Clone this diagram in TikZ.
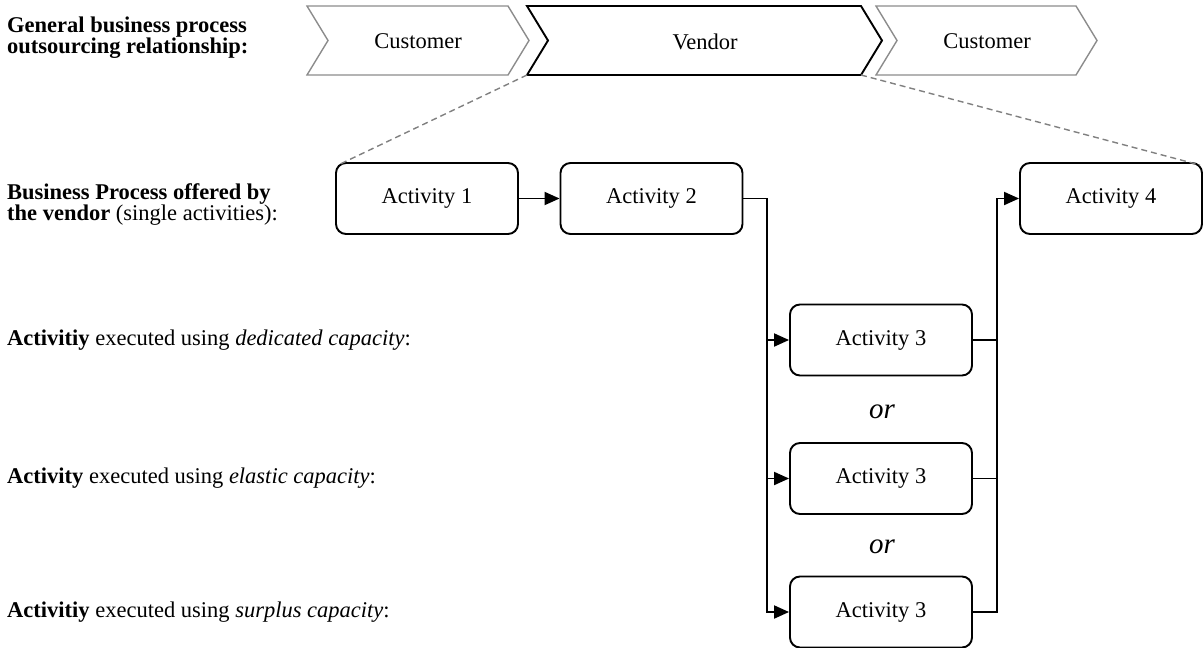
\documentclass[tikz,border=0pt]{standalone}
\usepackage{fontspec}
\setmainfont{Liberation Serif}
\usetikzlibrary{arrows.meta,calc}

\definecolor{chevgray}{RGB}{140,140,140}
\definecolor{dashgray}{RGB}{128,128,128}

\begin{document}
\begin{tikzpicture}[x=1pt,y=-1pt,
  every node/.style={font=\fontsize{22.5}{20.5}\selectfont},
  actbox/.style={draw, line width=1.9pt, rounded corners=10pt,
    minimum width=182pt, minimum height=71pt, inner sep=0pt},
  flow/.style={line width=1.9pt},
  arr/.style={flow, -{Triangle[length=15pt,width=13pt]}},
  chevcust/.style={draw=chevgray, line width=1.4pt},
  chevvend/.style={draw=black, line width=1.9pt},
  zoomline/.style={draw=dashgray, line width=1.4pt, dash pattern=on 6pt off 4pt},
  rowlabel/.style={anchor=west, inner sep=0pt, align=left},
  ortext/.style={font=\fontsize{29}{30}\selectfont\itshape}
]
\useasboundingbox (0,0) rectangle (1203,648);

% value chain: customer -> vendor -> customer
\draw[chevcust] (307,6) -- (508,6) -- (529,40.5) -- (508,75) -- (307,75) -- (328,40.5) -- cycle;
\node (cust1) at (418,41.5) {Customer};
\draw[chevvend] (527,6) -- (861,6) -- (882,40.5) -- (861,75) coordinate (vbr)
  -- (527,75) coordinate (vbl) -- (548,40.5) -- cycle;
\node (vend) at (705,41.5) {Vendor};
\draw[chevcust] (876,6) -- (1076,6) -- (1097,40.5) -- (1076,75) -- (876,75) -- (897,40.5) -- cycle;
\node (cust2) at (987,41.5) {Customer};

% row labels
\node[rowlabel] (lblBPO) at (7,37.5)
  {\textbf{General business process}\\\textbf{outsourcing relationship:}};
\node[rowlabel] (lblBP) at (7,204.5)
  {\textbf{Business Process offered by}\\\textbf{the vendor} (single activities):};
\node[rowlabel] (lblDed) at (7,340)
  {\textbf{Activitiy} executed using \textit{dedicated capacity}:};
\node[rowlabel] (lblEla) at (7,478.5)
  {\textbf{Activity} executed using \textit{elastic capacity}:};
\node[rowlabel] (lblSur) at (7,612)
  {\textbf{Activitiy} executed using \textit{surplus capacity}:};

% activities
\node[actbox] (a1) at (427,198.5) {Activity 1};
\node[actbox] (a2) at (651.5,198.5) {Activity 2};
\node[actbox] (a4) at (1111,198.5) {Activity 4};
\node[actbox] (a3a) at (881,340) {Activity 3};
\node[actbox] (a3b) at (881,478.5) {Activity 3};
\node[actbox] (a3c) at (881,612) {Activity 3};

\node[ortext] (or1) at (882,412) {or};
\node[ortext] (or2) at (882,547) {or};

% process flow
\coordinate (split) at (767,198.5);
\coordinate (join) at (997,198.5);
\draw[arr] (a1.east) -- (a2.west);
\draw[arr] (a2.east) -- (split) |- (a3c.west);
\draw[arr] (split) |- (a3a.west);
\draw[arr] (split) |- (a3b.west);
\draw[arr] (a3c.east) -| (join) -- (a4.west);
\draw[flow] (a3a.east) -| (join);
\draw[flow] (a3b.east) -| (join);

% detail of the vendor part
\draw[zoomline] (vbl) -- ([xshift=3pt,yshift=-3pt]a1.north west);
\draw[zoomline] (vbr) -- ([xshift=-3pt,yshift=-3pt]a4.north east);
\end{tikzpicture}
\end{document}
